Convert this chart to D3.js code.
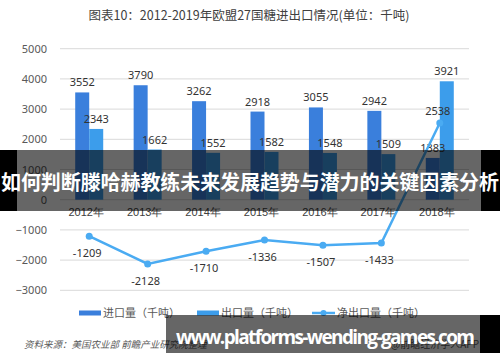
<!DOCTYPE html>
<html>
<head>
<meta charset="utf-8">
<script src="https://cdn.jsdelivr.net/npm/d3@7"></script>
<style>
  body { margin: 0; background: #fff; }
  svg { display: block; font-family: "Noto Sans CJK SC", "Noto Sans", sans-serif; }
</style>
</head>
<body>
<svg></svg>
<script>
var width = 500;
var height = 362;

var years = ['2012年', '2013年', '2014年', '2015年', '2016年', '2017年', '2018年'];
var imports = [3552, 3790, 3262, 2918, 3055, 2942, 1383];
var exports = [2343, 1662, 1552, 1582, 1548, 1509, 3921];
var netExports = [-1209, -2128, -1710, -1336, -1507, -1433, 2538];
var yTicks = [-3000, -2000, -1000, 0, 1000, 2000, 3000, 4000, 5000];
var seriesNames = ['进口量（千吨）', '出口量（千吨）', '净出口量（千吨）'];
var colors = ['#3a7fdc', '#3c9deb', '#4aabf2'];

var svg = d3.select('svg')
    .attr('width', width)
    .attr('height', height);

var x = d3.scaleBand()
    .domain(years)
    .range([60, 469])
    .paddingInner(0)
    .paddingOuter(0);

var y = d3.scaleLinear()
    .domain([-3000, 5000])
    .range([290.3, 48.7]);

var barW = 14;

// title
svg.append('text')
    .attr('x', 249).attr('y', 20)
    .attr('text-anchor', 'middle')
    .attr('font-size', 12.5)
    .attr('fill', '#404040')
    .text('图表10：2012-2019年欧盟27国糖进出口情况(单位：千吨)');

// grid
svg.append('g')
    .selectAll('line')
    .data(yTicks)
    .enter().append('line')
    .attr('x1', 60).attr('x2', 469)
    .attr('y1', function(d) { return y(d); })
    .attr('y2', function(d) { return y(d); })
    .attr('stroke', '#d9d9d9')
    .attr('stroke-width', 1);

// y axis labels
var yAxis = d3.axisLeft(y).tickValues(yTicks).tickFormat(d3.format('d')).tickSize(0).tickPadding(0);
var yg = svg.append('g')
    .attr('transform', 'translate(47,0)')
    .call(yAxis);
yg.select('.domain').remove();
yg.selectAll('text')
    .attr('font-size', 11)
    .attr('fill', '#595959')
    .attr('font-family', '"Noto Sans", sans-serif');

// x axis labels
var xAxis = d3.axisBottom(x).tickSize(0).tickPadding(0);
var xg = svg.append('g')
    .attr('transform', 'translate(-3,' + 208 + ')')
    .call(xAxis);
xg.select('.domain').remove();
xg.selectAll('text')
    .attr('font-size', 11)
    .attr('fill', '#404040');

// bars
function center(d) { return x(d) + x.bandwidth() / 2; }

svg.append('g')
    .selectAll('rect')
    .data(years)
    .enter().append('rect')
    .attr('x', function(d) { return center(d) - barW; })
    .attr('y', function(d, i) { return y(imports[i]); })
    .attr('width', barW)
    .attr('height', function(d, i) { return y(0) - y(imports[i]); })
    .attr('fill', colors[0]);

svg.append('g')
    .selectAll('rect')
    .data(years)
    .enter().append('rect')
    .attr('x', function(d) { return center(d); })
    .attr('y', function(d, i) { return y(exports[i]); })
    .attr('width', barW)
    .attr('height', function(d, i) { return y(0) - y(exports[i]); })
    .attr('fill', colors[1]);

var labelFont = '"Noto Sans", sans-serif';

svg.append('g')
    .selectAll('text')
    .data(years)
    .enter().append('text')
    .attr('x', function(d) { return center(d) - barW / 2; })
    .attr('y', function(d, i) { return y(imports[i]) - 6; })
    .attr('text-anchor', 'middle')
    .attr('font-size', 11)
    .attr('font-family', labelFont)
    .attr('fill', '#333')
    .text(function(d, i) { return imports[i]; });

svg.append('g')
    .selectAll('text')
    .data(years)
    .enter().append('text')
    .attr('x', function(d) { return center(d) + barW / 2; })
    .attr('y', function(d, i) { return y(exports[i]) - 6; })
    .attr('text-anchor', 'middle')
    .attr('font-size', 11)
    .attr('font-family', labelFont)
    .attr('fill', '#333')
    .text(function(d, i) { return exports[i]; });

// net export line
var line = d3.line()
    .x(function(d, i) { return center(years[i]); })
    .y(function(d) { return y(d); });

svg.append('path')
    .datum(netExports)
    .attr('d', line)
    .attr('fill', 'none')
    .attr('stroke', colors[2])
    .attr('stroke-width', 2.5);

svg.append('g')
    .selectAll('circle')
    .data(netExports)
    .enter().append('circle')
    .attr('cx', function(d, i) { return center(years[i]); })
    .attr('cy', function(d) { return y(d); })
    .attr('r', 3.5)
    .attr('fill', colors[2]);

svg.append('g')
    .selectAll('text')
    .data(netExports)
    .enter().append('text')
    .attr('x', function(d, i) { return center(years[i]) - 2; })
    .attr('y', function(d) { return d < 0 ? y(d) + 21 : y(d) - 8; })
    .attr('text-anchor', 'middle')
    .attr('font-size', 11)
    .attr('font-family', labelFont)
    .attr('fill', '#333')
    .text(function(d) { return d; });

// legend
var legendX = [79, 197, 312];
var lg = svg.append('g');
seriesNames.forEach(function(name, i) {
    var g = lg.append('g').attr('transform', 'translate(' + legendX[i] + ',313)');
    if (i < 2) {
        g.append('rect').attr('x', 0).attr('y', -2.5).attr('width', 22).attr('height', 5).attr('fill', colors[i]);
    } else {
        g.append('line').attr('x1', 0).attr('x2', 23).attr('y1', 0).attr('y2', 0)
            .attr('stroke', colors[i]).attr('stroke-width', 2.5);
        g.append('circle').attr('cx', 11.5).attr('cy', 0).attr('r', 3).attr('fill', colors[i]);
    }
    g.append('text')
        .attr('x', i < 2 ? 24 : 25).attr('y', 4)
        .attr('font-size', 11)
        .attr('fill', '#595959')
        .text(name);
});

// source
svg.append('text')
    .attr('x', 24).attr('y', 348)
    .attr('font-size', 9.5)
    .attr('font-style', 'italic')
    .attr('fill', '#595959')
    .text('资料来源：美国农业部 前瞻产业研究院整理');

svg.append('text')
    .attr('x', 479).attr('y', 348)
    .attr('text-anchor', 'end')
    .attr('font-size', 10)
    .attr('fill', '#595959')
    .text('@前瞻经济学人APP');

// overlay banner (middle)
svg.append('rect').attr('x', 0).attr('y', 150).attr('width', 17).attr('height', 61).attr('fill', '#000');
svg.append('rect').attr('x', 481).attr('y', 150).attr('width', 19).attr('height', 61).attr('fill', '#000');
svg.append('rect').attr('x', 17).attr('y', 150).attr('width', 464).attr('height', 61).attr('fill', 'rgba(0,0,0,0.6)');
svg.append('text')
    .attr('x', 250).attr('y', 190)
    .attr('text-anchor', 'middle')
    .attr('font-size', 20)
    .attr('font-weight', 'bold')
    .attr('fill', '#fff')
    .attr('textLength', 498)
    .text('如何判断滕哈赫教练未来发展趋势与潜力的关键因素分析');

// overlay banner (bottom)
svg.append('rect').attr('x', 166).attr('y', 315).attr('width', 314).attr('height', 38).attr('fill', 'rgba(0,0,0,0.6)');
svg.append('rect').attr('x', 480).attr('y', 315).attr('width', 20).attr('height', 38).attr('fill', '#000');
svg.append('text')
    .attr('x', 176).attr('y', 344)
    .attr('font-size', 19)
    .attr('font-weight', 'bold')
    .attr('font-family', '"Open Sans", "DejaVu Sans", sans-serif')
    .attr('fill', '#fff')
    .attr('textLength', 299)
    .text('www.platforms-wending-games.com');
</script>
</body>
</html>
